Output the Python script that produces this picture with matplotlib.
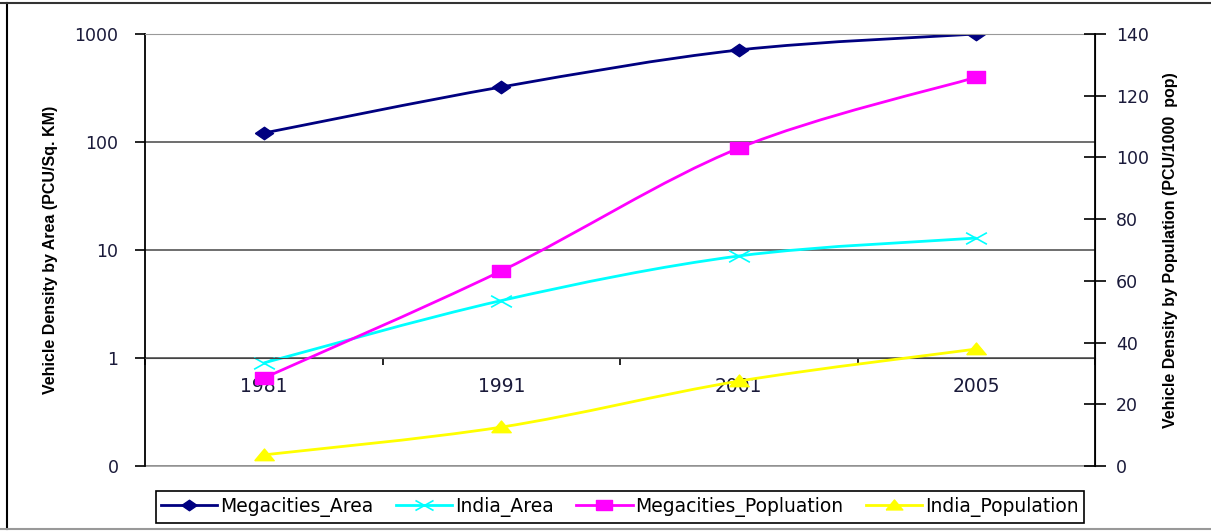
import numpy as np
import matplotlib
matplotlib.use('Agg')
import matplotlib.pyplot as plt
from matplotlib.path import Path
from matplotlib.patches import PathPatch
from matplotlib.lines import Line2D
from matplotlib.ticker import FixedLocator, FixedFormatter

plt.rcParams['font.family'] = ['DejaVu Sans']

years = ['1981', '1991', '2001', '2005']
megacities_area = [121, 323, 711, 1000]      # PCU / sq km (left, log)
india_area = [0.90, 3.4, 8.8, 12.9]
megacities_pop = [28.5, 63.2, 103, 126]      # PCU / 1000 pop (right)
india_pop = [3.6, 12.6, 27.5, 37.9]

left_ticks = [0.1, 1, 10, 100, 1000]
left_labels = ['0', '1', '10', '100', '1000']

# wide markers (the original picture is stretched sideways)
diamond = [(-1.45, 0), (0, 1), (1.45, 0), (0, -1), (-1.45, 0)]
square = [(-1.4, -1), (1.4, -1), (1.4, 1), (-1.4, 1), (-1.4, -1)]
triangle = [(-1.5, -0.8), (1.5, -0.8), (0, 1), (-1.5, -0.8)]
cross = Path([(-1.8, -1), (1.8, 1), (-1.8, 1), (1.8, -1)],
             [Path.MOVETO, Path.LINETO, Path.MOVETO, Path.LINETO])


def smooth_path(xs, ys, log=False):
    # excel style smoothed line: bezier with catmull-rom tangents
    pts = np.column_stack([xs, np.log10(ys) if log else ys]).astype(float)
    n = len(pts)
    verts = [pts[0]]
    codes = [Path.MOVETO]
    for i in range(n - 1):
        p0 = pts[max(i - 1, 0)]
        p1 = pts[i]
        p2 = pts[i + 1]
        p3 = pts[min(i + 2, n - 1)]
        verts += [p1 + (p2 - p0) / 6, p2 - (p3 - p1) / 6, p2]
        codes += [Path.CURVE4] * 3
    verts = np.array(verts)
    if log:
        verts[:, 1] = 10 ** verts[:, 1]
    return Path(verts, codes)


W, H = 1211, 531
fig = plt.figure(figsize=(W / 100, H / 100), dpi=100)
ax = fig.add_axes([145 / W, 1 - 466 / H, 950 / W, 432 / H])
ax2 = ax.twinx()

x = np.arange(len(years))
tick_col = '#1a1a3a'

# left axis (log)
ax.set_yscale('log')
ax.set_ylim(0.1, 1000)
ax.set_xlim(-0.5, len(years) - 0.5)
ax.yaxis.set_major_locator(FixedLocator(left_ticks))
ax.yaxis.set_major_formatter(FixedFormatter(left_labels))
ax.yaxis.set_minor_locator(FixedLocator([]))
ax.tick_params(axis='y', which='major', direction='out', length=7, width=1.2,
               pad=12, labelsize=12.5, labelcolor=tick_col)
ax.grid(axis='y', which='major', color='#555555', lw=1.2)
ax.set_axisbelow(True)

# category axis crosses at 1
ax.spines['bottom'].set_position(('data', 1))
ax.spines['bottom'].set_color('#444444')
ax.spines['top'].set_color('#999999')
ax.spines['left'].set_linewidth(1.3)
ax.xaxis.set_major_locator(FixedLocator(np.arange(len(years) + 1) - 0.5))
ax.xaxis.set_major_formatter(FixedFormatter([''] * (len(years) + 1)))
ax.xaxis.set_minor_locator(FixedLocator(x))
ax.xaxis.set_minor_formatter(FixedFormatter(years))
ax.tick_params(axis='x', which='major', direction='out', length=5, width=1.2)
ax.tick_params(axis='x', which='minor', length=0, pad=14, labelsize=13.5,
               labelcolor=tick_col)

# bottom frame line
ax.plot([0, 1], [0, 0], transform=ax.transAxes, color='#999999', lw=1.2,
        clip_on=False)

ax.add_patch(PathPatch(smooth_path(x, megacities_area, log=True),
                       facecolor='none', edgecolor='#000080', lw=2))
ax.plot(x, megacities_area, ls='none', marker=diamond, ms=13, color='#000080')
ax.add_patch(PathPatch(smooth_path(x, india_area, log=True),
                       facecolor='none', edgecolor='#00FFFF', lw=2))
ax.plot(x, india_area, ls='none', marker=cross, ms=15, mew=1.2,
        color='#00FFFF')

ax.set_ylabel('Vehicle Density by Area (PCU/Sq. KM)', fontsize=11.5,
              fontweight='bold', family='Liberation Sans', labelpad=12)

# right axis (linear)
ax2.set_ylim(0, 140)
ax2.set_yticks(np.arange(0, 141, 20))
ax2.tick_params(axis='y', direction='inout', length=16, width=1.2, pad=7,
                labelsize=12.5, labelcolor=tick_col)
ax2.spines['right'].set_linewidth(1.3)
for s in ['top', 'bottom', 'left']:
    ax2.spines[s].set_visible(False)

ax2.add_patch(PathPatch(smooth_path(x, megacities_pop),
                        facecolor='none', edgecolor='#FF00FF', lw=2))
ax2.plot(x, megacities_pop, ls='none', marker=square, ms=13, color='#FF00FF')
ax2.add_patch(PathPatch(smooth_path(x, india_pop),
                        facecolor='none', edgecolor='#FFFF00', lw=2))
ax2.plot(x, india_pop, ls='none', marker=triangle, ms=14, color='#FFFF00')

ax2.set_ylabel('Vehicle Density by Population (PCU/1000  pop)', fontsize=11.5,
               fontweight='bold', family='Liberation Sans', labelpad=10)

handles = [
    Line2D([], [], color='#000080', lw=2, marker=diamond, ms=11),
    Line2D([], [], color='#00FFFF', lw=2, marker=cross, ms=13, mew=1.2),
    Line2D([], [], color='#FF00FF', lw=2, marker=square, ms=11),
    Line2D([], [], color='#FFFF00', lw=2, marker=triangle, ms=12),
]
labels = ['Megacities_Area', 'India_Area', 'Megacities_Popluation', 'India_Population']
leg = fig.legend(handles, labels, loc='center', bbox_to_anchor=(620 / W, 1 - 507 / H),
                 ncol=4, fontsize=13.5, frameon=True, fancybox=False, framealpha=1,
                 edgecolor='black', handlelength=3.0, handletextpad=0.15,
                 columnspacing=1.2, borderpad=0.3, borderaxespad=0)
leg.get_frame().set_linewidth(1.2)

# outer chart border (right side cut off in the original)
fig.add_artist(Line2D([7 / W, 7 / W], [1 - 3 / H, 1 - 529 / H], color='black',
                      lw=1.5, transform=fig.transFigure))
fig.add_artist(Line2D([0, 1], [1 - 3 / H, 1 - 3 / H], color='#333333',
                      lw=1.5, transform=fig.transFigure))
fig.add_artist(Line2D([0, 1], [1 - 529 / H, 1 - 529 / H], color='#999999',
                      lw=1.5, transform=fig.transFigure))

fig.savefig('out.png', dpi=100)
